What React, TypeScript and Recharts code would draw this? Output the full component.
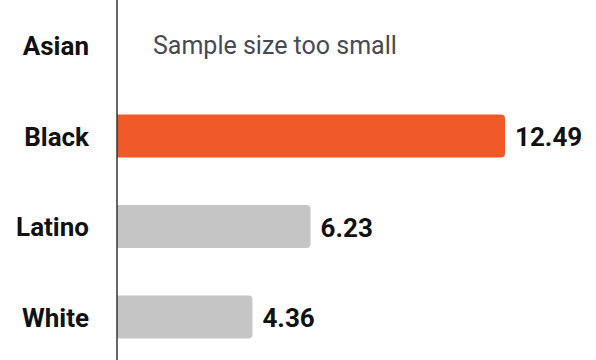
import { BarChart, Bar, XAxis, YAxis, Cell, LabelList } from "recharts";

const groups = ["Asian", "Black", "Latino", "White"];
const rates: (number | null)[] = [null, 12.49, 6.23, 4.36];
const highlight = "Black";
const noDataNote = "Sample size too small";

const data = groups.map((g, i) => ({
  group: g,
  rate: rates[i],
  label: rates[i] == null ? "" : rates[i]!.toFixed(2),
}));

// y-axis tick: group name, plus the "too small" note where there is no bar
function GroupTick(props: any) {
  const { x, y, payload } = props;
  const missing = rates[payload.index] == null;
  return (
    <g>
      <text
        x={x}
        y={y}
        dy={10}
        textAnchor="end"
        fill="#111"
        fontSize={26}
        fontWeight={700}
        fontFamily="Roboto"
      >
        {payload.value}
      </text>
      {missing && (
        <text x={x + 64} y={y} dy={9} fill="#454a55" fontSize={25} fontFamily="Roboto">
          {noDataNote}
        </text>
      )}
    </g>
  );
}

function BarLabel(props: any) {
  const { x, y, width, height, value } = props;
  if (!value) return null;
  return (
    <text
      x={Number(x) + Number(width) + 10}
      y={Number(y) + Number(height) / 2}
      dy={10}
      fill="#111"
      fontSize={26}
      fontWeight={700}
      fontFamily="Roboto"
    >
      {value}
    </text>
  );
}

export default function App() {
  return (
    <div style={{ position: "absolute", left: 0, top: 0, background: "#fff" }}>
      <BarChart
        width={596}
        height={362}
        data={data}
        layout="vertical"
        margin={{ top: 0, right: 13, bottom: 0, left: 0 }}
        barSize={43}
      >
        <XAxis type="number" domain={[0, 15]} hide />
        <YAxis
          type="category"
          dataKey="group"
          width={117}
          axisLine={{ stroke: "#333", strokeWidth: 1.5 }}
          tickLine={false}
          tickMargin={22}
          tick={GroupTick}
        />
        <Bar dataKey="rate" radius={[0, 4, 4, 0]} isAnimationActive={false}>
          {data.map((d) => (
            <Cell key={d.group} fill={d.group === highlight ? "#ef5a28" : "#c6c5c6"} />
          ))}
          <LabelList dataKey="label" content={BarLabel} />
        </Bar>
      </BarChart>
    </div>
  );
}
